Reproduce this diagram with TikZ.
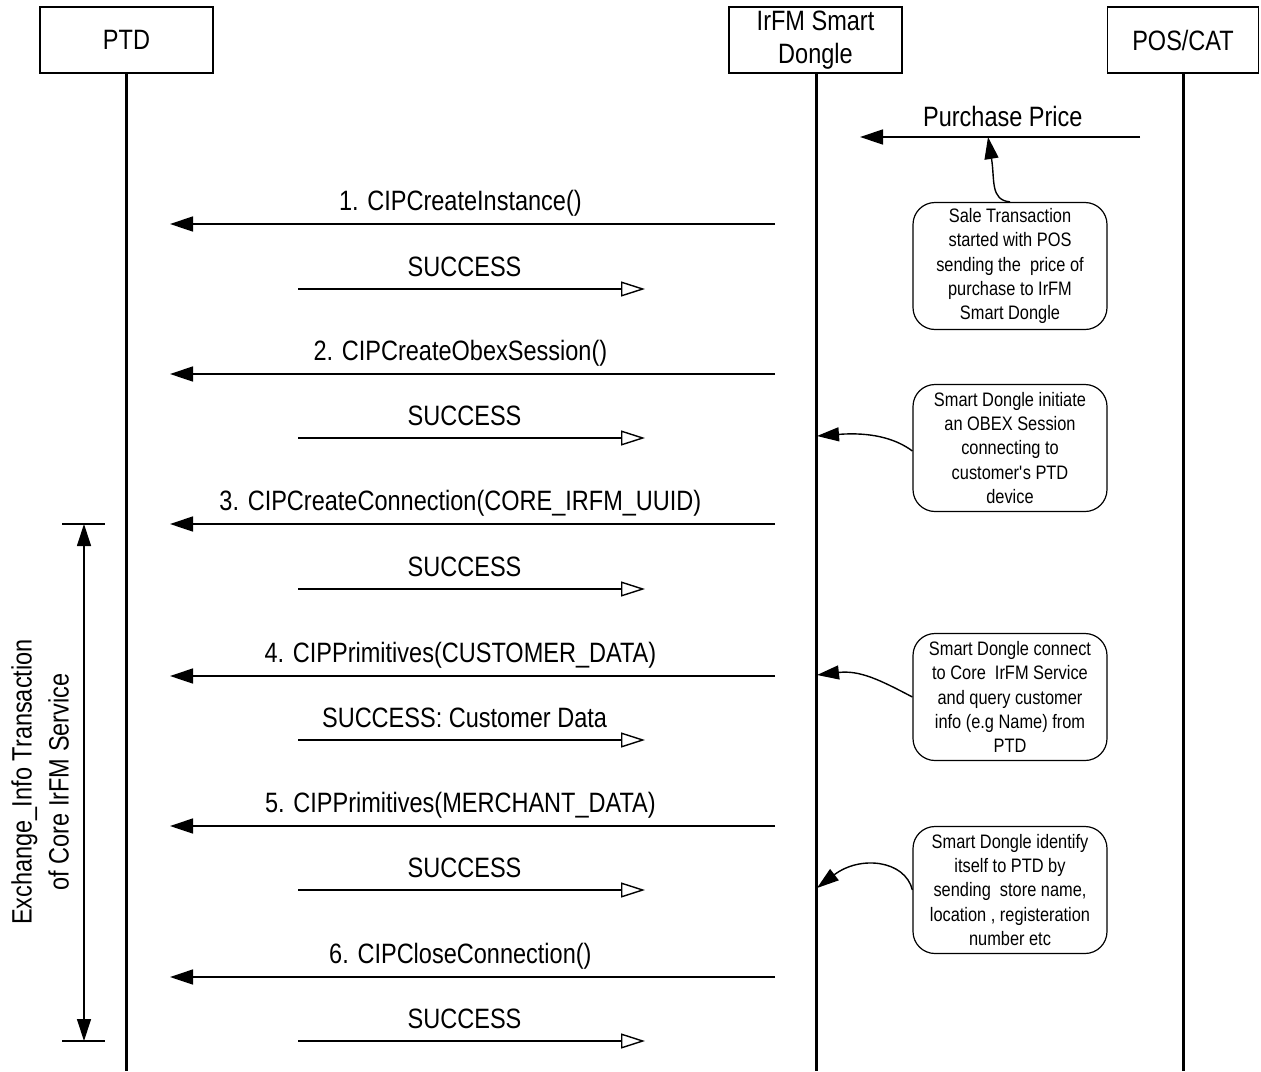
\documentclass[tikz,border=0pt]{standalone}
\usepackage{fontspec}
\setmainfont[FakeStretch=0.84]{Liberation Sans}
\usetikzlibrary{arrows.meta,positioning}

\tikzset{
  actor/.style={draw, line width=1.5pt, minimum height=66pt, align=center,
                font=\fontsize{28}{33}\selectfont},
  life/.style={line width=3pt},
  call/.style={line width=1.4pt, -{Triangle[length=23pt,width=15pt]}},
  reply/.style={line width=1.4pt, -{Triangle[open,length=24pt,width=15pt]}},
  msg/.style={font=\fontsize{28}{33}\selectfont, above=4pt},
  note/.style={draw, line width=1.2pt, rounded corners=22pt, minimum width=194pt,
               minimum height=127pt, align=center, font=\fontsize{19.5}{24.4}\selectfont},
  hint/.style={line width=1.4pt, -{Triangle[length=22pt,width=14pt]}}
}

\begin{document}
\begin{tikzpicture}[x=1pt,y=-1pt]
  \useasboundingbox (0,0) rectangle (1261,1071);

  % actors and lifelines
  \node[actor, minimum width=173pt] (ptd) at (126.5,40) {PTD};
  \node[actor, minimum width=173pt] (dongle) at (815.5,40) {IrFM Smart\\Dongle};
  \node[actor, minimum width=151pt] (pos) at (1183,40) {POS/CAT};
  \coordinate (ptdend) at (126,1071);
  \coordinate (dongleend) at (816,1071);
  \coordinate (posend) at (1183,1071);
  \draw[life] (126,73) -- (ptdend);
  \draw[life] (816,73) -- (dongleend);
  \draw[life] (1183,73) -- (posend);

  % purchase price from POS
  \coordinate (pp1) at (1140,137);
  \coordinate (pp2) at (860,137);
  \draw[call] (pp1) -- node[msg, pos=0.49, above=6pt] {Purchase Price} (pp2);

  % calls and replies
  \foreach \y/\txt in {224/1. CIPCreateInstance(),
                       374/2. CIPCreateObexSession(),
                       524/3. CIPCreateConnection(CORE\_IRFM\_UUID),
                       676/4. CIPPrimitives(CUSTOMER\_DATA),
                       826/5. CIPPrimitives(MERCHANT\_DATA),
                       977/6. CIPCloseConnection()} {
    \coordinate (cs) at (775,\y);
    \coordinate (ce) at (170,\y);
    \draw[call] (cs) -- node[msg, pos=0.52] {\txt} (ce);
  }
  \foreach \y/\txt in {289/SUCCESS, 438/SUCCESS, 589/SUCCESS,
                       740/SUCCESS: Customer Data, 890/SUCCESS, 1041/SUCCESS} {
    \coordinate (rs) at (298,\y);
    \coordinate (re) at (645,\y);
    \draw[reply] (rs) -- node[msg, pos=0.48, above=8pt] {\txt} (re);
  }

  % notes
  \node[note] (n1) at (1010,266) {Sale Transaction\\started with POS\\sending the\ \ price of\\purchase to IrFM\\Smart Dongle};
  \node[note] (n2) at (1010,448) {Smart Dongle initiate\\an OBEX Session\\connecting to\\customer\textquotesingle s PTD\\device};
  \node[note] (n3) at (1010,697) {Smart Dongle connect\\to Core\ \ IrFM Service\\and query customer\\info (e.g Name) from\\PTD};
  \node[note] (n4) at (1010,890) {Smart Dongle identify\\itself to PTD by\\sending\ \ store name,\\location , registeration\\number etc};

  \coordinate (h1) at (988,137);
  \coordinate (h2) at (817,436);
  \coordinate (h3) at (817,675);
  \coordinate (h4) at (817,888);
  \draw[hint] (n1.north) .. controls (990,200) and (995,180) .. (h1);
  \draw[hint] ([yshift=-3pt]n2.west) .. controls (895,438) and (870,432) .. (h2);
  \draw[hint] (n3.west) .. controls (880,680) and (860,670) .. (h3);
  \draw[hint] (n4.west) .. controls (905,860) and (860,855) .. (h4);

  % span of the exchange_info transaction
  \coordinate (bt) at (84,524);
  \coordinate (bb) at (84,1041);
  \draw[line width=1.2pt] (62,524) -- (105,524) (62,1041) -- (105,1041);
  \draw[line width=1.2pt, {Triangle[length=22pt,width=14pt]}-{Triangle[length=22pt,width=14pt]}] (bt) -- (bb);
  \node[rotate=90, align=center, font=\fontsize{28}{37}\selectfont] (span) at (40,782)
    {Exchange\_Info Transaction\\of Core IrFM Service};
\end{tikzpicture}
\end{document}
